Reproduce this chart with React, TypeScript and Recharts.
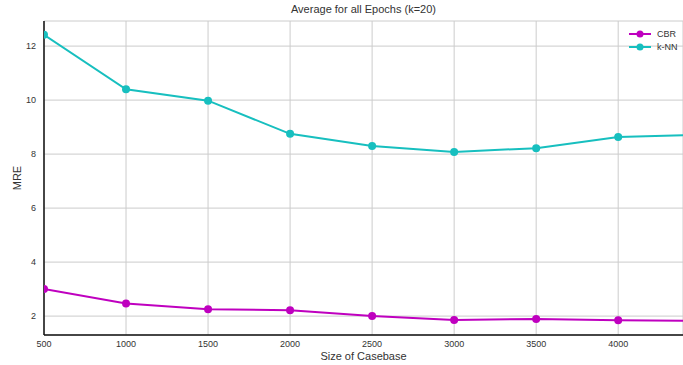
import React from 'react';
import { LineChart, Line, XAxis, YAxis, CartesianGrid } from 'recharts';

const sizes = [500, 1000, 1500, 2000, 2500, 3000, 3500, 4000, 4500];
const cbrValues = [3.0, 2.47, 2.25, 2.22, 2.0, 1.86, 1.89, 1.85, 1.82];
const knnValues = [12.42, 10.4, 9.98, 8.75, 8.3, 8.08, 8.22, 8.63, 8.72];
const xTicks = [500, 1000, 1500, 2000, 2500, 3000, 3500, 4000];
const yTicks = [2, 4, 6, 8, 10, 12];
const seriesNames = ['CBR', 'k-NN'];
const seriesColors = ['#bf00bf', '#17bfbf'];

const data = sizes.map((s, i) => ({ size: s, cbr: cbrValues[i], knn: knnValues[i] }));

const font = '"Liberation Sans", Arial, sans-serif';

const LegendBox = () => (
  <div style={{ position: 'absolute', left: 628, top: 27, fontFamily: font, fontSize: 9, color: '#333' }}>
    {seriesNames.map((n, i) => (
      <div key={n} style={{ display: 'flex', alignItems: 'center', height: 13 }}>
        <svg width={24} height={10} style={{ marginRight: 5 }}>
          <line x1={1} y1={5} x2={23} y2={5} stroke={seriesColors[i]} strokeWidth={2} />
          <circle cx={12} cy={5} r={3.5} fill={seriesColors[i]} />
        </svg>
        <span>{n}</span>
      </div>
    ))}
  </div>
);

export default function App() {
  return (
    <div style={{ position: 'absolute', left: 0, top: 0, width: 683, height: 365, background: '#fff', overflow: 'hidden' }}>
      <div
        style={{
          position: 'absolute',
          left: 44,
          width: 639,
          top: 3,
          textAlign: 'center',
          fontFamily: font,
          fontSize: 11,
          color: '#333',
        }}
      >
        Average for all Epochs (k=20)
      </div>
      <LineChart width={683} height={365} data={data} margin={{ top: 21, right: 0, left: 0, bottom: 0 }}>
        <CartesianGrid stroke="#cccccc" strokeWidth={1} />
        <XAxis
          dataKey="size"
          type="number"
          domain={[500, 4395]}
          allowDataOverflow
          ticks={xTicks}
          tickLine={false}
          tickSize={0}
          tickMargin={6}
          height={30}
          axisLine={{ stroke: '#111', strokeWidth: 1.5 }}
          tick={{ fontSize: 9, fill: '#333', fontFamily: font }}
          label={{ value: 'Size of Casebase', position: 'insideBottom', offset: 5, style: { fontSize: 11, fill: '#333', fontFamily: font } }}
        />
        <XAxis
          xAxisId="top"
          orientation="top"
          dataKey="size"
          type="number"
          domain={[500, 4395]}
          allowDataOverflow
          tick={false}
          tickLine={false}
          height={0}
          axisLine={{ stroke: '#111', strokeWidth: 1.5 }}
        />
        <YAxis
          type="number"
          domain={[1.3, 12.93]}
          allowDataOverflow
          ticks={yTicks}
          width={44}
          tickLine={false}
          tickSize={0}
          tickMargin={8}
          axisLine={{ stroke: '#111', strokeWidth: 1.5 }}
          tick={{ fontSize: 9, fill: '#333', fontFamily: font }}
          label={{ value: 'MRE', angle: -90, position: 'insideLeft', offset: 17, style: { textAnchor: 'middle', fontSize: 11, fill: '#333', fontFamily: font } }}
        />
        <Line dataKey="cbr" name="CBR" stroke={seriesColors[0]} strokeWidth={2} dot={{ r: 4, fill: seriesColors[0], stroke: seriesColors[0], strokeWidth: 0 }} isAnimationActive={false} />
        <Line dataKey="knn" name="k-NN" stroke={seriesColors[1]} strokeWidth={2} dot={{ r: 4, fill: seriesColors[1], stroke: seriesColors[1], strokeWidth: 0 }} isAnimationActive={false} />
      </LineChart>
      <LegendBox />
    </div>
  );
}
